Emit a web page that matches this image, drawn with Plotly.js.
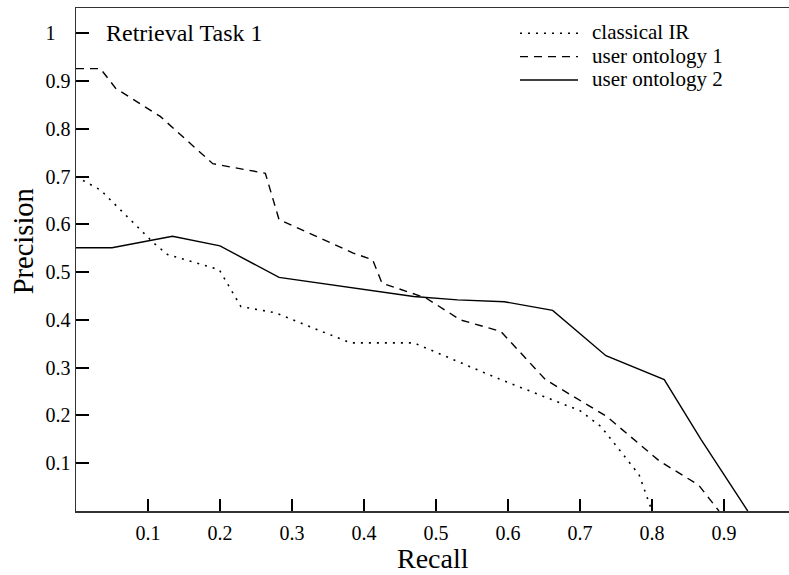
<!DOCTYPE html>
<html>
<head>
<meta charset="utf-8">
<script src="https://cdn.plot.ly/plotly-3.0.1.min.js"></script>
<style>
html, body { margin: 0; padding: 0; overflow: hidden; background: #fff; }
#chart { width: 800px; height: 575px; }
</style>
</head>
<body>
<div id="chart"></div>
<script>
// ---- data ----
const seriesNames = ["classical IR", "user ontology 1", "user ontology 2"];

const classicalRecall    = [0, 0.034, 0.108, 0.127, 0.199, 0.229, 0.277, 0.381, 0.469, 0.59, 0.70, 0.729, 0.782, 0.80];
const classicalPrecision = [0.70, 0.672, 0.561, 0.537, 0.505, 0.428, 0.415, 0.352, 0.352, 0.275, 0.21, 0.177, 0.076, 0];

const onto1Recall    = [0, 0.034, 0.055, 0.117, 0.19, 0.263, 0.282, 0.385, 0.412, 0.425, 0.486, 0.534, 0.59, 0.652, 0.737, 0.81, 0.865, 0.893];
const onto1Precision = [0.926, 0.926, 0.885, 0.826, 0.727, 0.707, 0.61, 0.54, 0.526, 0.477, 0.446, 0.40, 0.376, 0.275, 0.198, 0.105, 0.054, 0];

const onto2Recall    = [0, 0.05, 0.134, 0.2, 0.282, 0.469, 0.53, 0.595, 0.662, 0.736, 0.817, 0.868, 0.933];
const onto2Precision = [0.551, 0.551, 0.575, 0.555, 0.489, 0.449, 0.442, 0.438, 0.42, 0.325, 0.275, 0.15, 0];

const xTickVals = [0.1, 0.2, 0.3, 0.4, 0.5, 0.6, 0.7, 0.8, 0.9, 1];
const xTickText = ["0.1", "0.2", "0.3", "0.4", "0.5", "0.6", "0.7", "0.8", "0.9", "1\u2007\u2008"];
const yTickVals = [0.1, 0.2, 0.3, 0.4, 0.5, 0.6, 0.7, 0.8, 0.9, 1];
const yTickText = ["0.1", "0.2", "0.3", "0.4", "0.5", "0.6", "0.7", "0.8", "0.9", "1\u2008\u2007"];

const chartTitle = "Retrieval Task 1";
const xTitle = "Recall";
const yTitle = "Precision";

// ---- styles ----
const FONT = "Liberation Serif, Times New Roman, serif";
const lineStyles = [
  { color: "#000", width: 1.6, dash: "2px,6px" },
  { color: "#000", width: 1.4, dash: "8px,6px" },
  { color: "#000", width: 1.4, dash: "solid" }
];

const traces = [
  { x: classicalRecall, y: classicalPrecision, name: seriesNames[0] },
  { x: onto1Recall, y: onto1Precision, name: seriesNames[1] },
  { x: onto2Recall, y: onto2Precision, name: seriesNames[2] }
].map((t, i) => Object.assign(t, {
  type: "scatter", mode: "lines", line: lineStyles[i], showlegend: false, hoverinfo: "skip"
}));

// pixel geometry of the plot area
const W = 800, H = 575;
const L = 76, R = 4, T = 8, B = 63.5;
const PW = W - L - R, PH = H - T - B;
const px = v => (v - L) / PW;          // pixel x -> paper x
const py = v => (H - B - v) / PH;      // pixel y -> paper y

const annotations = [
  { text: chartTitle, xref: "paper", yref: "paper", x: px(104), y: py(33), xanchor: "left", yanchor: "middle",
    showarrow: false, font: { family: FONT, size: 24, color: "#000" } },
  { text: yTitle, xref: "paper", yref: "paper", x: px(23), y: py(241.5), textangle: -90, xanchor: "center", yanchor: "middle",
    showarrow: false, font: { family: FONT, size: 28.5, color: "#000" } },
  { text: xTitle, xref: "paper", yref: "paper", x: px(433), y: py(559), xanchor: "center", yanchor: "middle",
    showarrow: false, borderpad: 0, font: { family: FONT, size: 28, color: "#000" } }
];

// manual legend
const legendRowsY = [33.3, 56.7, 80];
const shapes = [];
seriesNames.forEach((name, i) => {
  shapes.push({ type: "line", xref: "paper", yref: "paper", x0: px(520), x1: px(578), y0: py(legendRowsY[i]), y1: py(legendRowsY[i]),
    line: { color: lineStyles[i].color, width: lineStyles[i].width, dash: lineStyles[i].dash } });
  annotations.push({ text: name, xref: "paper", yref: "paper", x: px(590), y: py(legendRowsY[i] - 1), xanchor: "left", yanchor: "middle",
    showarrow: false, font: { family: FONT, size: 21, color: "#000" } });
});

const axisCommon = {
  showline: true, linecolor: "#333", linewidth: 1.5, mirror: true,
  ticks: "inside", tickwidth: 2, tickcolor: "#000",
  showgrid: false, zeroline: false, fixedrange: true,
  tickfont: { family: FONT, size: 20, color: "#000" }
};

const layout = {
  width: W, height: H,
  margin: { l: L, r: R, t: T, b: B, pad: 0 },
  paper_bgcolor: "#fff", plot_bgcolor: "#fff",
  showlegend: false,
  xaxis: Object.assign({}, axisCommon, { range: [0, 1], tickmode: "array", tickvals: xTickVals, ticktext: xTickText, ticklen: 12, ticklabelstandoff: 3 }),
  yaxis: Object.assign({}, axisCommon, { range: [0, 1.053], tickmode: "array", tickvals: yTickVals, ticktext: yTickText, ticklen: 13 }),
  annotations: annotations,
  shapes: shapes
};

Plotly.newPlot("chart", traces, layout, { displayModeBar: false, staticPlot: true });
</script>
</body>
</html>
